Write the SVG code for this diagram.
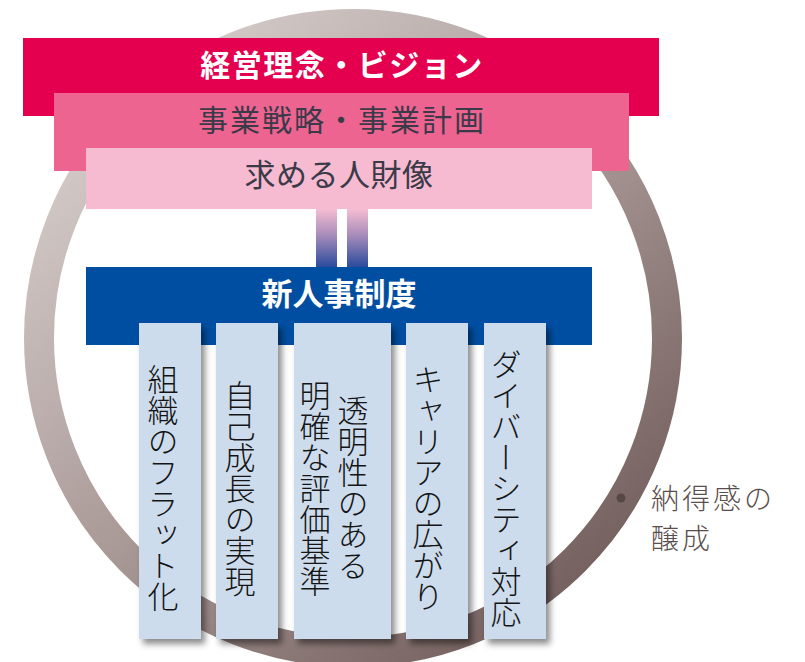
<svg xmlns="http://www.w3.org/2000/svg" width="805" height="662" viewBox="0 0 805 662">
<defs>
<linearGradient id="ringGrad" x1="0.15" y1="0.1" x2="0.85" y2="0.9">
<stop offset="0" stop-color="#d3cac8"/>
<stop offset="0.5" stop-color="#a99997"/>
<stop offset="1" stop-color="#75615f"/>
</linearGradient>
<linearGradient id="barGrad" x1="0" y1="0" x2="0" y2="1">
<stop offset="0" stop-color="#f5bdd2"/>
<stop offset="0.45" stop-color="#a88cba"/>
<stop offset="1" stop-color="#2a4b9c"/>
</linearGradient>
<filter id="shadow" x="-20%" y="-10%" width="150%" height="130%">
<feDropShadow dx="4" dy="5" stdDeviation="3" flood-color="#000" flood-opacity="0.45"/>
</filter>
<style>
.jp{font-family:"Noto Sans CJK JP","Noto Sans CJK SC",sans-serif;}
.hTitle{font-size:30px;font-weight:bold;fill:#ffffff;text-anchor:middle;}
.hText{font-size:30px;fill:#3a3a48;text-anchor:middle;}
.col{fill:#cddcec;filter:url(#shadow);}
.vText{font-size:31px;fill:#151515;writing-mode:vertical-rl;text-anchor:middle;font-weight:300;}
.note{font-size:28px;fill:#5a4e4c;font-weight:300;letter-spacing:3px;}
</style>
</defs>

<g id="ring">
<circle cx="353" cy="338" r="314" fill="none" stroke="url(#ringGrad)" stroke-width="30"/>
<circle cx="621" cy="498" r="4.5" fill="#574846"/>
</g>

<g id="node-vision">
<rect x="23" y="38" width="636" height="78" fill="#e4004e"/>
<text class="jp hTitle" x="342" y="76" style="letter-spacing:1.5px">経営理念・ビジョン</text>
</g>

<g id="node-strategy">
<rect x="54" y="93" width="575" height="78" fill="#ee6491"/>
<text class="jp hText" x="342" y="131" style="letter-spacing:2px">事業戦略・事業計画</text>
</g>

<g id="node-talent">
<rect x="86" y="148" width="506" height="61" fill="#f6bbd1"/>
<text class="jp hText" x="339" y="186" style="font-size:31px;letter-spacing:0.5px">求める人財像</text>
</g>

<g id="connectors">
<rect x="316" y="209" width="21" height="58" fill="url(#barGrad)"/>
<rect x="347" y="209" width="21" height="58" fill="url(#barGrad)"/>
</g>

<g id="node-hr">
<rect x="86" y="267" width="506" height="78" fill="#004ea2"/>
<text class="jp hTitle" x="339" y="305" style="font-size:31px">新人事制度</text>
</g>

<g id="node-flat">
<rect class="col" x="139" y="323" width="62" height="316"/>
<text class="jp vText" x="163" y="488">組織のフラット化</text>
</g>

<g id="node-growth">
<rect class="col" x="216" y="323" width="62" height="316"/>
<text class="jp vText" x="240" y="488">自己成長の実現</text>
</g>

<g id="node-criteria">
<rect class="col" x="294" y="323" width="97" height="316"/>
<text class="jp vText" x="353" y="488">透明性のある</text>
<text class="jp vText" x="315" y="488">明確な評価基準</text>
</g>

<g id="node-career">
<rect class="col" x="406" y="323" width="62" height="316"/>
<text class="jp vText" x="428" y="488">キャリアの広がり</text>
</g>

<g id="node-diversity">
<rect class="col" x="484" y="323" width="62" height="316"/>
<text class="jp vText" x="506" y="488">ダイバーシティ対応</text>
</g>

<g id="label-consensus">
<text class="jp note" x="651" y="509">納得感の</text>
<text class="jp note" x="651" y="549">醸成</text>
</g>
</svg>
